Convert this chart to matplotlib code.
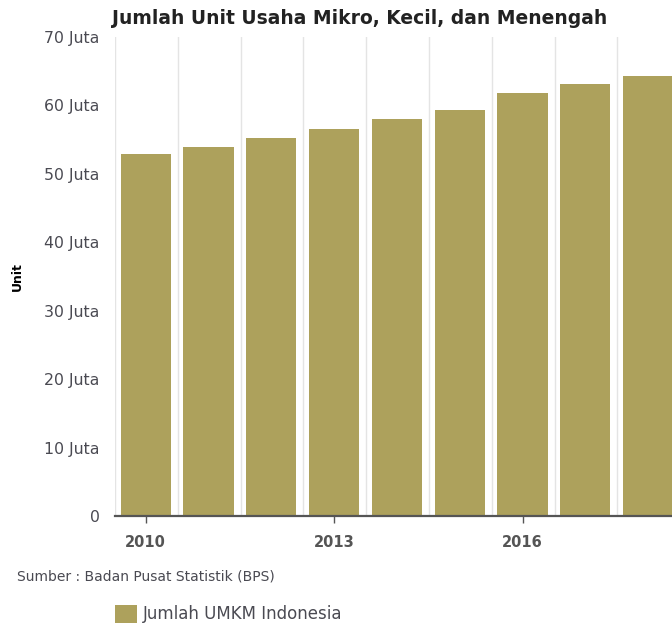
import matplotlib.pyplot as plt
import matplotlib.ticker as mticker

#%% DATA
years = ['2010', '2011', '2012', '2013', '2014', '2015', '2016', '2017', '2018']
umkm_juta = [52.9, 53.9, 55.3, 56.6, 58.0, 59.4, 61.8, 63.1, 64.3]
shown_years = ['2010', '2013', '2016']
y_ticks = [0, 10, 20, 30, 40, 50, 60, 70]

title = 'Jumlah Unit Usaha Mikro, Kecil, dan Menengah'
source = 'Sumber : Badan Pusat Statistik (BPS)'
series_name = 'Jumlah UMKM Indonesia'

bar_color = '#ada15c'
text_color = '#4a4a52'

#%% FIGURE
W, H = 672, 627
fig = plt.figure(figsize=(W / 100, H / 100), dpi=100)
left, right, top, bottom = 115, 672, 37, 516
ax = fig.add_axes([left / W, 1 - bottom / H, (right - left) / W, (bottom - top) / H])

x = list(range(len(years)))
bars = ax.bar(x, umkm_juta, width=0.8, color=bar_color, label=series_name, zorder=2)

# vertical grid lines at category boundaries
for i in x:
    ax.axvline(i - 0.49, color='#e4e4e4', lw=1, zorder=1)

ax.set_xlim(-0.49, 8.38)
ax.set_ylim(0, 70)

ax.set_yticks(y_ticks)
ax.yaxis.set_major_formatter(mticker.FuncFormatter(lambda v, p: '0' if v == 0 else '%d Juta' % v))
ax.tick_params(axis='y', length=0, pad=11, labelsize=11.3, labelcolor=text_color)

ax.set_xticks([years.index(y) for y in shown_years])
ax.set_xticklabels(shown_years)
ax.tick_params(axis='x', length=5, width=1, color='#555555', pad=9, labelsize=10.5, labelcolor='#555555')
for lbl in ax.get_xticklabels():
    lbl.set_fontweight('bold')

for s in ['top', 'right', 'left']:
    ax.spines[s].set_visible(False)
ax.spines['bottom'].set_color('#555555')
ax.spines['bottom'].set_linewidth(1.6)

ax.set_ylabel('Unit', fontsize=9, fontweight='bold', color='black')
ax.yaxis.set_label_coords((24 - left) / (right - left), 0.5)

fig.text(360 / W, 1 - 19 / H, title, ha='center', va='center', fontsize=13.5, fontweight='bold', color='#222222')
fig.text(17 / W, 1 - 577 / H, source, ha='left', va='center', fontsize=10, color=text_color)

fig.legend(handles=[bars], loc='center left', bbox_to_anchor=(115 / W, 1 - 614 / H), frameon=False,
           borderpad=0, borderaxespad=0, fontsize=12, handlelength=1.32, handleheight=1.32,
           handletextpad=0.36, labelcolor=text_color)

fig.savefig('out.png', dpi=100)
